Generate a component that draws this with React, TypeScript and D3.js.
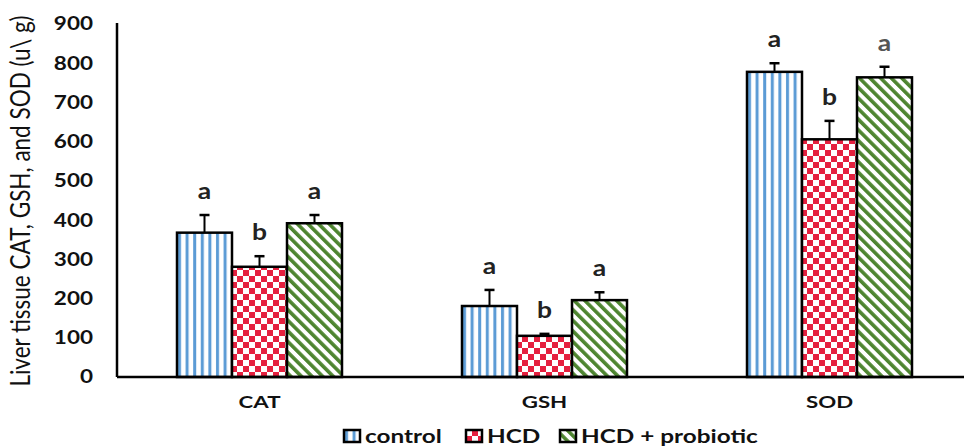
import React, {useEffect, useRef} from "react";
import * as d3 from "d3";

// Data
const categories = ["CAT", "GSH", "SOD"];
const groups = ["control", "HCD", "HCD + probiotic"];
const controlValues = [368, 181, 778];
const hcdValues = [281, 105, 606];
const probioticValues = [392, 196, 764];
const controlErrors = [45, 41, 22];
const hcdErrors = [27, 5, 47];
const probioticErrors = [21, 20, 27];
const controlLetters = ["a", "a", "a"];
const hcdLetters = ["b", "b", "b"];
const probioticLetters = ["a", "a", "a"];
const yTicks = [0, 100, 200, 300, 400, 500, 600, 700, 800, 900];

const W = 964;
const H = 448;

const App: React.FC = () => {
	const svgRef = useRef<SVGSVGElement>(null);

	useEffect(() => {
		const svg = d3.select(svgRef.current);
		svg.selectAll("*").remove();

		const margin = {left: 117, top: 24, bottom: 71};
		const plotRight = margin.left + 3 * 285;
		const y = d3
			.scaleLinear()
			.domain([0, 900])
			.range([H - margin.bottom, margin.top]);
		const x0 = d3
			.scaleBand<string>()
			.domain(categories)
			.range([margin.left, plotRight]);
		const groupWidth = 165;
		const x1 = d3.scaleBand<string>().domain(groups).range([0, groupWidth]);

		// Patterns
		const defs = svg.append("defs");
		const blue = defs
			.append("pattern")
			.attr("id", "pat-control")
			.attr("patternUnits", "userSpaceOnUse")
			.attr("width", 7.6)
			.attr("height", 10);
		blue.append("rect").attr("width", 7.6).attr("height", 10).attr("fill", "#fff");
		blue.append("rect").attr("x", 1).attr("width", 3).attr("height", 10).attr("fill", "#5b9bd5");

		const red = defs
			.append("pattern")
			.attr("id", "pat-hcd")
			.attr("patternUnits", "userSpaceOnUse")
			.attr("width", 12)
			.attr("height", 12);
		red.append("rect").attr("width", 12).attr("height", 12).attr("fill", "#fff");
		red.append("rect").attr("width", 6).attr("height", 6).attr("fill", "#e5203f");
		red.append("rect").attr("x", 6).attr("y", 6).attr("width", 6).attr("height", 6).attr("fill", "#e5203f");

		const green = defs
			.append("pattern")
			.attr("id", "pat-prob")
			.attr("patternUnits", "userSpaceOnUse")
			.attr("width", 7.5)
			.attr("height", 10)
			.attr("patternTransform", "rotate(-45)");
		green.append("rect").attr("width", 7.5).attr("height", 10).attr("fill", "#fff");
		green.append("rect").attr("width", 3.6).attr("height", 10).attr("fill", "#4e8530");

		const fills = ["url(#pat-control)", "url(#pat-hcd)", "url(#pat-prob)"];
		const series = [
			{values: controlValues, errors: controlErrors, letters: controlLetters},
			{values: hcdValues, errors: hcdErrors, letters: hcdLetters},
			{values: probioticValues, errors: probioticErrors, letters: probioticLetters},
		];

		const font = "Lato, 'Open Sans', sans-serif";
		// the reference text is stretched sideways
		const place = (x: number, yy: number, sx: number) =>
			`translate(${x}, ${yy}) scale(${sx}, 1)`;

		// Bars
		const catG = svg
			.selectAll(".cat")
			.data(categories)
			.enter()
			.append("g")
			.attr("class", "cat")
			.attr(
				"transform",
				(c) => `translate(${x0(c)! + (x0.bandwidth() - groupWidth) / 2}, 0)`
			);

		catG.each(function (c, ci) {
			const g = d3.select(this);
			series.forEach((s, si) => {
				const bx = x1(groups[si])!;
				const bw = x1.bandwidth();
				const v = s.values[ci];
				const top = y(v + s.errors[ci]);
				g.append("line")
					.attr("x1", bx + bw / 2)
					.attr("x2", bx + bw / 2)
					.attr("y1", y(v))
					.attr("y2", top)
					.attr("stroke", "#000")
					.attr("stroke-width", 2);
				g.append("line")
					.attr("x1", bx + bw / 2 - 5)
					.attr("x2", bx + bw / 2 + 5)
					.attr("y1", top)
					.attr("y2", top)
					.attr("stroke", "#000")
					.attr("stroke-width", 2.5);
				g.append("rect")
					.attr("x", bx)
					.attr("y", y(v))
					.attr("width", bw)
					.attr("height", y(0) - y(v))
					.attr("fill", fills[si])
					.attr("stroke", "#000")
					.attr("stroke-width", 2.5);
				g.append("text")
					.attr("transform", place(bx + bw / 2, top - 16, 1.2))
					.attr("text-anchor", "middle")
					.style("font-family", font)
					.style("font-weight", "bold")
					.style("font-size", "22px")
					.style("fill", ci === 2 && si === 2 ? "#555" : "#222")
					.text(s.letters[ci]);
			});
		});

		// Axes
		svg.append("line")
			.attr("x1", margin.left)
			.attr("x2", W)
			.attr("y1", y(0))
			.attr("y2", y(0))
			.attr("stroke", "#000")
			.attr("stroke-width", 2.5);
		svg.append("line")
			.attr("x1", margin.left)
			.attr("x2", margin.left)
			.attr("y1", y(0))
			.attr("y2", y(900) - 1)
			.attr("stroke", "#000")
			.attr("stroke-width", 2.5);

		svg.selectAll(".ytick")
			.data(yTicks)
			.enter()
			.append("text")
			.attr("transform", (d) => place(93, y(d), 1.25))
			.attr("dy", "0.36em")
			.attr("text-anchor", "end")
			.style("font-family", font)
			.style("font-weight", "bold")
			.style("font-size", "18px")
			.style("fill", "#111")
			.text((d) => d);

		svg.selectAll(".xlab")
			.data(categories)
			.enter()
			.append("text")
			.attr("transform", (c) => place(x0(c)! + x0.bandwidth() / 2, 408, 1.35))
			.attr("text-anchor", "middle")
			.style("font-family", font)
			.style("font-weight", "bold")
			.style("font-size", "16.5px")
			.style("fill", "#111")
			.text((c) => c);

		svg.append("text")
			.attr("transform", `translate(30, 201) rotate(-90) scale(1, 1.2)`)
			.attr("text-anchor", "middle")
			.style("font-family", font)
			.style("font-size", "22.5px")
			.style("fill", "#111")
			.text("Liver tissue CAT, GSH, and SOD (u\\ g)");

		// Legend
		const legendX = [344, 466, 560];
		const legend = svg
			.selectAll(".legend-item")
			.data(groups)
			.enter()
			.append("g")
			.attr("class", "legend-item")
			.attr("transform", (_, i) => `translate(${legendX[i]}, 436)`);
		legend
			.append("rect")
			.attr("x", 0)
			.attr("y", -6)
			.attr("width", 16)
			.attr("height", 12)
			.attr("fill", (_, i) => fills[i])
			.attr("stroke", "#000")
			.attr("stroke-width", 2.5);
		legend
			.append("text")
			.attr("transform", place(21, 0, 1.28))
			.attr("dy", "0.36em")
			.style("font-family", font)
			.style("font-weight", "bold")
			.style("font-size", "19px")
			.style("fill", "#111")
			.text((d) => d);
	}, []);

	return (
		<svg
			ref={svgRef}
			width={W}
			height={H}
			style={{position: "absolute", left: 0, top: 0, background: "#fff"}}
		/>
	);
};

export default App;
